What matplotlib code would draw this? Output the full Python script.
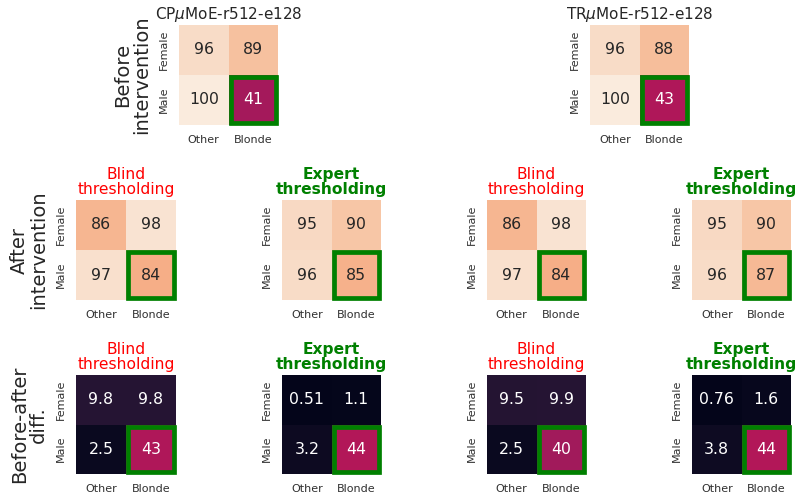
import matplotlib
matplotlib.use("Agg")
import matplotlib.pyplot as plt
import seaborn as sns
import numpy as np
from matplotlib.patches import Rectangle

sns.set_style("white")
plt.rcParams['font.family'] = ['DejaVu Sans']

x_labels = ["Other", "Blonde"]
y_labels = ["Female", "Male"]

# Before intervention
cp_before = [[96, 89], [100, 41]]
tr_before = [[96, 88], [100, 43]]
# After intervention
cp_after_blind = [[86, 98], [97, 84]]
cp_after_expert = [[95, 90], [96, 85]]
tr_after_blind = [[86, 98], [97, 84]]
tr_after_expert = [[95, 90], [96, 87]]
# Before-after differences
cp_diff_blind = [[9.8, 9.8], [2.5, 43]]
cp_diff_expert = [[0.51, 1.1], [3.2, 44]]
tr_diff_blind = [[9.5, 9.9], [2.5, 40]]
tr_diff_expert = [[0.76, 1.6], [3.8, 44]]

model_titles = [r"CP$\mu$MoE-r512-e128", r"TR$\mu$MoE-r512-e128"]
highlight = (1, 1)  # (row, col) of Male/Blonde cell

W, H = 797, 500
fig = plt.figure(figsize=(W / 100, H / 100), dpi=100)

def px_axes(x0, y0, x1, y1):
    return fig.add_axes([x0 / W, 1 - y1 / H, (x1 - x0) / W, (y1 - y0) / H])

def draw(ax, data, title=None, title_color="#262626", bold=False, ylabel=None,
         title_size=11.2):
    arr = np.array(data, dtype=float)
    sns.heatmap(arr, ax=ax, cmap="rocket", vmin=0, vmax=100, annot=True,
                fmt=".3g", cbar=False, annot_kws={"fontsize": 11.3},
                xticklabels=x_labels, yticklabels=y_labels)
    ax.tick_params(length=0, pad=7)
    ax.set_xticklabels(x_labels, fontsize=8, color="#303030")
    ax.set_yticklabels(y_labels, fontsize=8, rotation=90, va="center", color="#303030")
    r, c = highlight
    lw = 3.4
    d = 0.048
    ax.add_patch(Rectangle((c + d, r + d), 1 - 2 * d, 1 - 2 * d, fill=False,
                           edgecolor="green", lw=lw, clip_on=False))
    if title:
        ax.set_title(title, fontsize=title_size, color=title_color,
                     fontweight="bold" if bold else "normal", pad=4, linespacing=1.0)
    if ylabel:
        ax.set_ylabel(ylabel, fontsize=14, color="#262626", labelpad=6, linespacing=1.0)

cols = [(76, 176), (282, 381), (487, 586), (692, 791)]
# Row 1
ax = px_axes(179, 25, 278, 125)
draw(ax, cp_before, title=model_titles[0], ylabel="Before\nintervention", title_size=11)
ax.title.set_position((0.5, 1.02))
ax = px_axes(590, 25, 689, 125)
draw(ax, tr_before, title=model_titles[1], title_size=11)
ax.title.set_position((0.5, 1.02))

blind = "Blind\nthresholding"
expert = "Expert\nthresholding"
row2 = [cp_after_blind, cp_after_expert, tr_after_blind, tr_after_expert]
row3 = [cp_diff_blind, cp_diff_expert, tr_diff_blind, tr_diff_expert]
for i, (x0, x1) in enumerate(cols):
    ax = px_axes(x0, 200, x1, 300)
    draw(ax, row2[i], title=blind if i % 2 == 0 else expert,
         title_color="red" if i % 2 == 0 else "green", bold=(i % 2 == 1),
         ylabel="After\nintervention" if i == 0 else None)
    ax = px_axes(x0, 375, x1, 474)
    draw(ax, row3[i], title=blind if i % 2 == 0 else expert,
         title_color="red" if i % 2 == 0 else "green", bold=(i % 2 == 1),
         ylabel="Before-after\ndiff." if i == 0 else None)

fig.savefig("out.png", dpi=100)
